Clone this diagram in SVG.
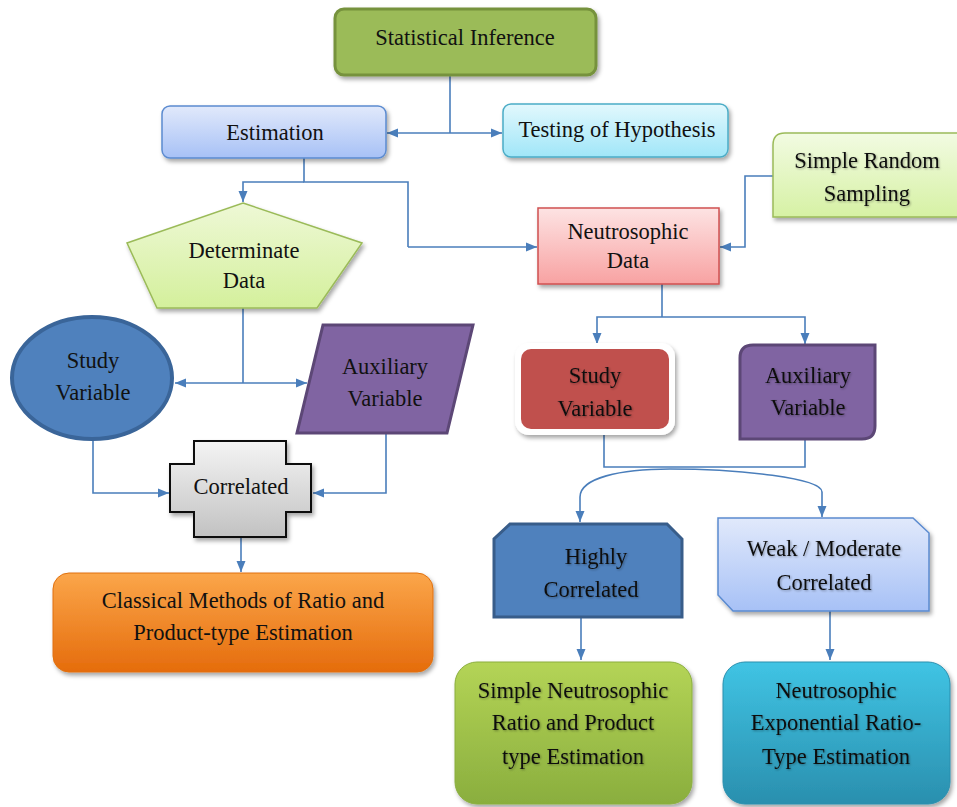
<svg xmlns="http://www.w3.org/2000/svg" width="957" height="807" viewBox="0 0 957 807" font-family="'Liberation Serif', 'DejaVu Serif', serif">
<defs>
<marker id="ah" markerUnits="userSpaceOnUse" markerWidth="12" markerHeight="12" viewBox="0 0 12 12" refX="11" refY="6" orient="auto">
<path d="M0,1.5 L11,6 L0,10.5 Z" fill="#4a7ebb"/>
</marker>
<filter id="sh" x="-10%" y="-10%" width="125%" height="130%">
<feDropShadow dx="2" dy="3" stdDeviation="2" flood-color="#000" flood-opacity="0.35"/>
</filter>
<filter id="tsh" x="-5%" y="-20%" width="115%" height="150%">
<feDropShadow dx="1" dy="1" stdDeviation="0.8" flood-color="#000" flood-opacity="0.35"/>
</filter>
<linearGradient id="gEst" x1="0" y1="0" x2="0" y2="1"><stop offset="0" stop-color="#e1e9fb"/><stop offset="1" stop-color="#a7c1f6"/></linearGradient>
<linearGradient id="gTest" x1="0" y1="0" x2="0" y2="1"><stop offset="0" stop-color="#e2f8fd"/><stop offset="1" stop-color="#a0e6f8"/></linearGradient>
<linearGradient id="gDet" x1="0" y1="0" x2="0" y2="1"><stop offset="0" stop-color="#eef8d6"/><stop offset="1" stop-color="#d4f09c"/></linearGradient>
<linearGradient id="gSrs" x1="0" y1="0" x2="0" y2="1"><stop offset="0" stop-color="#f2fbe2"/><stop offset="1" stop-color="#d6f1a4"/></linearGradient>
<linearGradient id="gNeu" x1="0" y1="0" x2="0" y2="1"><stop offset="0" stop-color="#fde3e3"/><stop offset="1" stop-color="#f8a2a2"/></linearGradient>
<linearGradient id="gCor" x1="0" y1="0" x2="0" y2="1"><stop offset="0" stop-color="#f4f4f4"/><stop offset="1" stop-color="#c2c2c2"/></linearGradient>
<linearGradient id="gOr" x1="0" y1="0" x2="0" y2="1"><stop offset="0" stop-color="#fba64a"/><stop offset="1" stop-color="#e56c0c"/></linearGradient>
<linearGradient id="gGr" x1="0" y1="0" x2="0" y2="1"><stop offset="0" stop-color="#b4d456"/><stop offset="1" stop-color="#8aae3e"/></linearGradient>
<linearGradient id="gCy" x1="0" y1="0" x2="0" y2="1"><stop offset="0" stop-color="#40c4e4"/><stop offset="1" stop-color="#2a8fae"/></linearGradient>
<linearGradient id="gWeak" x1="0" y1="0" x2="0" y2="1"><stop offset="0" stop-color="#e1e9fb"/><stop offset="1" stop-color="#a7c1f6"/></linearGradient>
</defs>
<style>
text{font-family:'Liberation Serif','DejaVu Serif',serif;font-size:22.5px;fill:#111;text-anchor:middle;dominant-baseline:central}
.c{fill:none;stroke:#4a7ebb;stroke-width:1.6}
.a{fill:none;stroke:#4a7ebb;stroke-width:1.6;marker-end:url(#ah)}
.ts{filter:url(#tsh)}
</style>

<g id="connectors">
<path class="c" d="M450,75 V133"/>
<path class="a" d="M450,133 H387"/>
<path class="a" d="M450,133 H502"/>
<path class="c" d="M304,158 V182 H408 V247"/>
<path class="a" d="M304,182 H243 V202"/>
<path class="a" d="M408,247 H537"/>
<path class="a" d="M773,176 H745 V247 H720"/>
<path class="c" d="M662,284 V317"/>
<path class="a" d="M662,317 H597 V344"/>
<path class="a" d="M662,317 H805 V344"/>
<path class="c" d="M243,308 V383"/>
<path class="a" d="M243,383 H175"/>
<path class="a" d="M243,383 H307"/>
<path class="a" d="M93,440 V493 H169"/>
<path class="a" d="M386,433 V493 H313"/>
<path class="a" d="M241,537 V572"/>
<path class="c" d="M604,435 V467 H805 V440"/>
<path class="a" d="M670,469 C620,469 580,478 580,497 V522"/>
<path class="a" d="M670,469 C740,469 822,478 822,492 V517"/>
<path class="a" d="M581,618 V660"/>
<path class="a" d="M830,611 V660"/>
</g>

<g id="statistical-inference">
<rect x="335" y="9" width="261" height="66" rx="9" fill="#9bbb59" stroke="#76923c" stroke-width="3" filter="url(#sh)"/>
<text x="465" y="37">Statistical Inference</text>
</g>

<g id="estimation">
<rect x="162" y="106" width="224" height="52" rx="8" fill="url(#gEst)" stroke="#5b8bd0" stroke-width="1.5" filter="url(#sh)"/>
<text x="275" y="132">Estimation</text>
</g>

<g id="testing-of-hypothesis">
<rect x="503" y="104" width="225" height="53" rx="8" fill="url(#gTest)" stroke="#4bacc6" stroke-width="1.5" filter="url(#sh)"/>
<text x="617" y="129">Testing of Hypothesis</text>
</g>

<g id="simple-random-sampling">
<path d="M785,133 H958 V217 H773 V145 Q773,133 785,133 Z" fill="url(#gSrs)" stroke="#9bbb59" stroke-width="1.5" filter="url(#sh)"/>
<text class="ts" x="867" y="160">Simple Random</text>
<text class="ts" x="867" y="193">Sampling</text>
</g>

<g id="determinate-data">
<polygon points="243,203 362,243 317,308 157,308 127,243" fill="url(#gDet)" stroke="#9bbb59" stroke-width="1.5" filter="url(#sh)"/>
<text x="244" y="250">Determinate</text>
<text x="244" y="280">Data</text>
</g>

<g id="neutrosophic-data">
<rect x="538" y="208" width="181" height="76" fill="url(#gNeu)" stroke="#d05050" stroke-width="1.5" filter="url(#sh)"/>
<text x="628" y="231">Neutrosophic</text>
<text x="628" y="260">Data</text>
</g>

<g id="study-variable-left">
<ellipse cx="92" cy="378" rx="80" ry="61" fill="#4f81bd" stroke="#3a6599" stroke-width="4"/>
<text x="93" y="360">Study</text>
<text x="93" y="392">Variable</text>
</g>

<g id="auxiliary-variable-left">
<polygon points="323,325 473,325 447,433 297,433" fill="#8064a2" stroke="#5c4776" stroke-width="3"/>
<text x="385" y="366">Auxiliary</text>
<text x="385" y="398">Variable</text>
</g>

<g id="correlated">
<polygon points="194,441 286,441 286,464 311,464 311,512 286,512 286,537 194,537 194,512 170,512 170,464 194,464" fill="url(#gCor)" stroke="#111" stroke-width="2" filter="url(#sh)"/>
<text x="241" y="486">Correlated</text>
</g>

<g id="classical-methods">
<rect x="53" y="573" width="380" height="99" rx="16" fill="url(#gOr)" stroke="#e0700e" stroke-width="1" filter="url(#sh)"/>
<text x="243" y="600">Classical Methods of Ratio and</text>
<text x="243" y="632">Product-type Estimation</text>
</g>

<g id="study-variable-right">
<rect x="515" y="343" width="160" height="92" rx="14" fill="#ffffff" filter="url(#sh)"/>
<rect x="521" y="349" width="148" height="80" rx="10" fill="#c0504d"/>
<text class="ts" x="595" y="375">Study</text>
<text class="ts" x="595" y="408">Variable</text>
</g>

<g id="auxiliary-variable-right">
<path d="M753,345 H875 V426 Q875,439 862,439 H740 V358 Q740,345 753,345 Z" fill="#8064a2" stroke="#5c4776" stroke-width="3"/>
<text class="ts" x="808" y="375">Auxiliary</text>
<text class="ts" x="808" y="407">Variable</text>
</g>

<g id="highly-correlated">
<polygon points="510,524 667,524 682,539 682,617 494,617 494,539" fill="#4f81bd" stroke="#385d8a" stroke-width="3"/>
<text class="ts" x="596" y="556">Highly</text>
<text class="ts" x="591" y="589">Correlated</text>
</g>

<g id="weak-moderate-correlated">
<polygon points="718,518 913,518 929,533 929,611 733,611 718,595" fill="url(#gWeak)" stroke="#5b8bd0" stroke-width="1.5" filter="url(#sh)"/>
<text class="ts" x="824" y="548">Weak / Moderate</text>
<text class="ts" x="824" y="582">Correlated</text>
</g>

<g id="simple-neutrosophic-estimation">
<rect x="455" y="662" width="237" height="142" rx="22" fill="url(#gGr)" stroke="#8aae3e" stroke-width="1" filter="url(#sh)"/>
<text class="ts" x="573" y="690">Simple Neutrosophic</text>
<text class="ts" x="573" y="722">Ratio and Product</text>
<text class="ts" x="573" y="756">type Estimation</text>
</g>

<g id="neutrosophic-exponential-estimation">
<rect x="723" y="662" width="227" height="142" rx="22" fill="url(#gCy)" stroke="#2a8fae" stroke-width="1" filter="url(#sh)"/>
<text class="ts" x="836" y="690">Neutrosophic</text>
<text class="ts" x="836" y="722">Exponential Ratio-</text>
<text class="ts" x="836" y="756">Type Estimation</text>
</g>
</svg>
